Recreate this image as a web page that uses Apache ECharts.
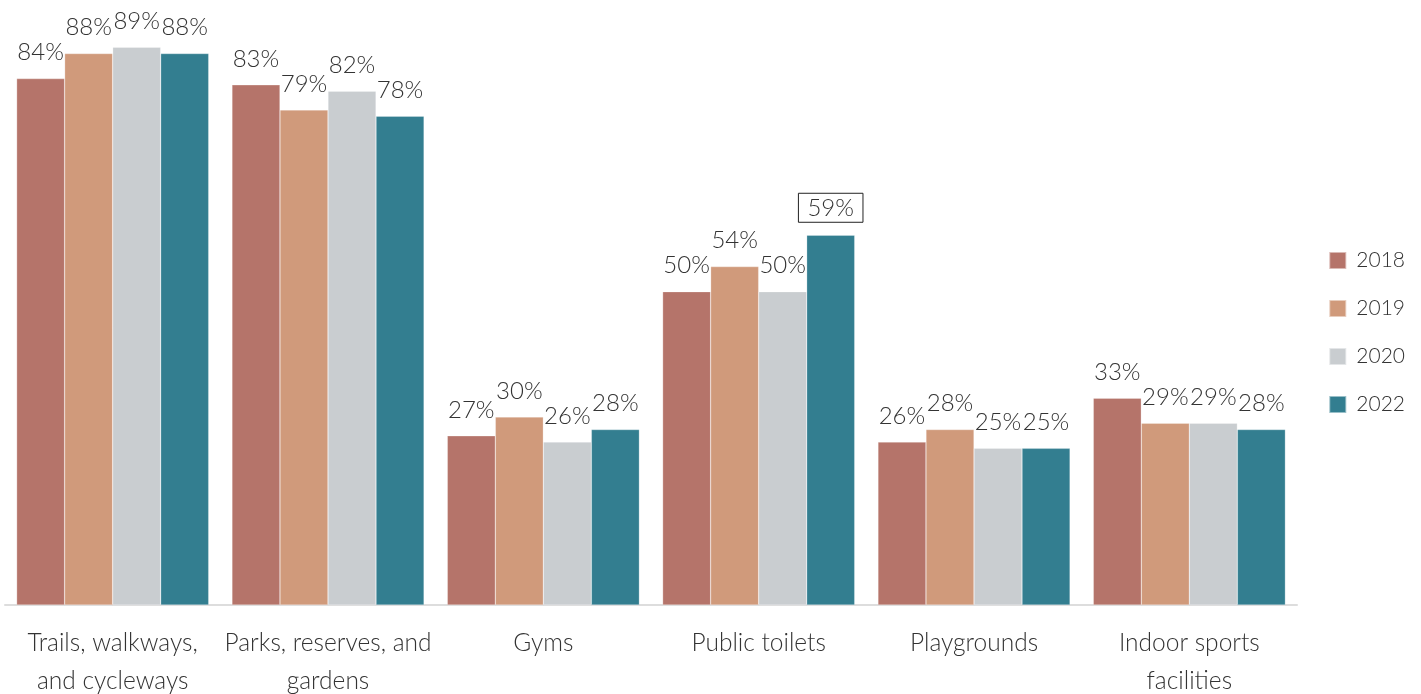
<!DOCTYPE html>
<html><head><meta charset="utf-8">
<script src="https://cdn.jsdelivr.net/npm/echarts@6/dist/echarts.min.js"></script>
<style>html,body{margin:0;padding:0;background:#fff}#c{width:1421px;height:694px}</style>
</head><body><div id="c"></div>
<script>
const categories = ['Trails, walkways,\nand cycleways', 'Parks, reserves, and\ngardens', 'Gyms', 'Public toilets', 'Playgrounds', 'Indoor sports\nfacilities'];
const years = ['2018', '2019', '2020', '2022'];
const v2018 = [84, 83, 27, 50, 26, 33];
const v2019 = [88, 79, 30, 54, 28, 29];
const v2020 = [89, 82, 26, 50, 25, 29];
const v2022 = [88, 78, 28, 59, 25, 28];
const colors = ['#b5746a', '#d09a7b', '#c9cdd0', '#337e90'];
const FONT = 'Lato';
const chart = echarts.init(document.getElementById('c'));
const dataSets = [v2018, v2019, v2020, v2022];
const series = dataSets.map((d, i) => ({
  name: years[i], type: 'bar', barGap: '0%', barCategoryGap: '10.8%',
  itemStyle: { color: colors[i], borderColor: 'rgba(255,255,255,0.5)', borderWidth: 0.5 },
  label: { show: true, position: 'top', distance: 14, formatter: '{c}%', color: '#333', fontFamily: FONT, fontWeight: 300, fontSize: 24 },
  data: d.map((v, j) => {
    if (i === 3 && j === 3) {
      return { value: v, label: { borderColor: '#222', borderWidth: 1, padding: [3, 9, 2, 9], distance: 13 } };
    }
    return v;
  })
}));
chart.setOption({
  animation: false,
  textStyle: { fontFamily: FONT },
  legend: {
    orient: 'vertical', right: 11, top: 245, data: years,
    itemWidth: 17, itemHeight: 17, itemGap: 27,
    icon: 'rect',
    textStyle: { color: '#333', fontSize: 21, fontFamily: FONT, fontWeight: 300, padding: [0, 0, 0, 5] }
  },
  grid: { left: 5, right: 124, top: 41, bottom: 89, containLabel: false, outerBoundsMode: 'none' },
  xAxis: {
    type: 'category', data: categories,
    axisLine: { lineStyle: { color: '#dddddd', width: 2 } },
    axisTick: { show: false },
    axisLabel: { color: '#333', fontSize: 24.5, fontFamily: FONT, fontWeight: 300, lineHeight: 38, margin: 19, interval: 0 }
  },
  yAxis: { type: 'value', min: 0, max: 90, show: false, splitLine: { show: false } },
  series: series
});
</script></body></html>
